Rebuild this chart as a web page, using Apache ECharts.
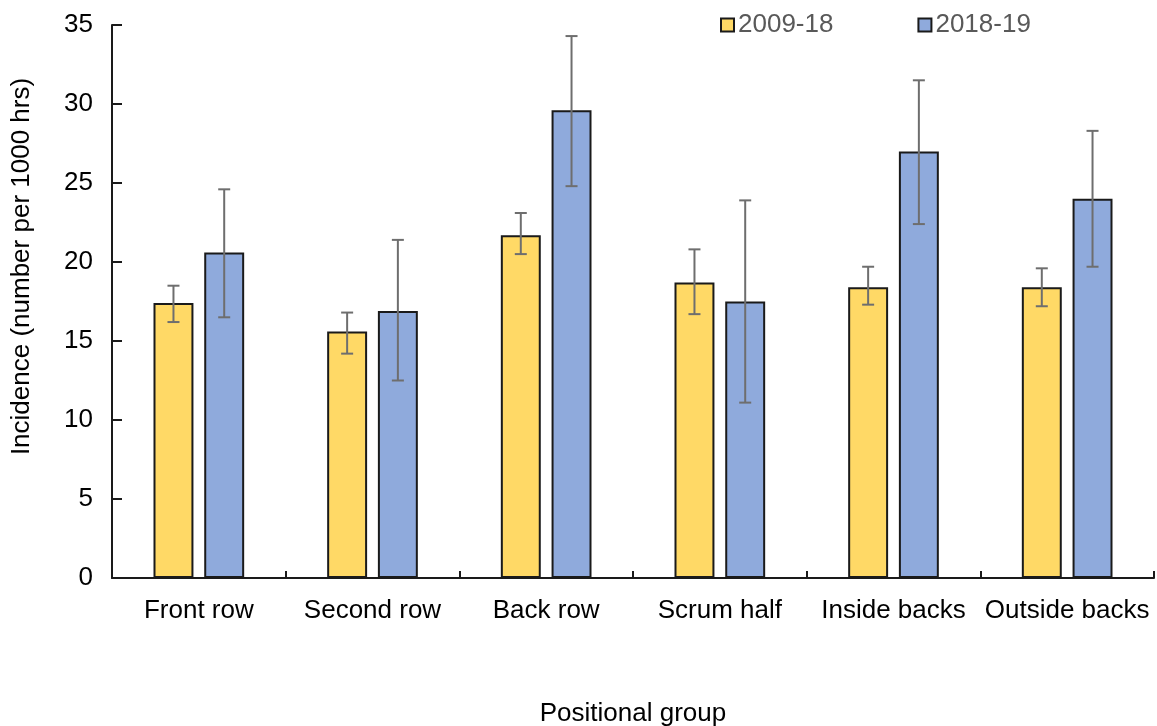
<!DOCTYPE html>
<html>
<head>
<meta charset="utf-8">
<title>Incidence by positional group</title>
<script src="https://cdn.jsdelivr.net/npm/echarts@6/dist/echarts.min.js"></script>
<style>
  html, body { margin: 0; padding: 0; background: #fff; }
  #chart { width: 1157px; height: 726px; }
</style>
</head>
<body>
<div id="chart"></div>
<script>
// Positional groups along the x axis
const categories = ['Front row', 'Second row', 'Back row', 'Scrum half', 'Inside backs', 'Outside backs'];

// Mean incidence (number per 1000 hrs)
const seasons0918 = [17.4, 15.6, 21.7, 18.7, 18.4, 18.4];
const seasons1819 = [20.6, 16.9, 29.6, 17.5, 27.0, 24.0];

// Confidence interval bounds for each group
const low0918  = [16.2, 14.2, 20.5, 16.7, 17.3, 17.2];
const high0918 = [18.5, 16.8, 23.1, 20.8, 19.7, 19.6];
const low1819  = [16.5, 12.5, 24.8, 11.1, 22.4, 19.7];
const high1819 = [24.6, 21.4, 34.3, 23.9, 31.5, 28.3];

const seriesNames = ['2009-18', '2018-19'];
const yTicks = { min: 0, max: 35, interval: 5 };

const FONT = "'Liberation Sans', Arial, sans-serif";
const BAR_W = 0.23;   // bar width as share of the category band
const BAR_GAP = 0.27; // gap between paired bars as share of bar width

function errorRows(lo, hi) {
  return categories.map((c, i) => [i, lo[i], hi[i]]);
}

// Draws a whisker with caps, shifted to sit over its own bar in the pair
function makeErrorRenderer(side) {
  return function (params, api) {
    const idx = api.value(0);
    const pLo = api.coord([idx, api.value(1)]);
    const pHi = api.coord([idx, api.value(2)]);
    const band = api.size([1, 0])[0];
    const off = side * band * BAR_W * (1 + BAR_GAP) / 2;
    const x = pLo[0] + off;
    const cap = 6;
    const style = { stroke: '#6e6e6e', lineWidth: 2 };
    return {
      type: 'group',
      children: [
        { type: 'line', shape: { x1: x, y1: pHi[1], x2: x, y2: pLo[1] }, style },
        { type: 'line', shape: { x1: x - cap, y1: pHi[1], x2: x + cap, y2: pHi[1] }, style },
        { type: 'line', shape: { x1: x - cap, y1: pLo[1], x2: x + cap, y2: pLo[1] }, style }
      ]
    };
  };
}

const chart = echarts.init(document.getElementById('chart'), null, { renderer: 'canvas' });

chart.setOption({
  animation: false,
  backgroundColor: '#ffffff',
  textStyle: { fontFamily: FONT },
  legend: {
    data: seriesNames,
    left: 720,
    top: 12,
    padding: 0,
    itemWidth: 13,
    itemHeight: 13,
    itemGap: 84,
    icon: 'rect',
    textStyle: { fontFamily: FONT, fontSize: 26, color: '#595959', padding: [0, 0, 7, -1] }
  },
  grid: { left: 112, right: 3, top: 25, bottom: 148, containLabel: false, outerBoundsMode: 'none' },
  xAxis: {
    type: 'category',
    data: categories,
    name: 'Positional group',
    nameLocation: 'middle',
    nameGap: 123,
    nameTextStyle: { fontFamily: FONT, fontSize: 26, color: '#000' },
    axisLine: { lineStyle: { color: '#1a1a1a', width: 2 } },
    axisTick: { show: true, inside: true, length: 7, alignWithLabel: false, lineStyle: { color: '#1a1a1a', width: 2 } },
    axisLabel: { fontFamily: FONT, fontSize: 26, color: '#000', margin: 20, interval: 0 },
    splitLine: { show: false }
  },
  yAxis: {
    type: 'value',
    min: yTicks.min,
    max: yTicks.max,
    interval: yTicks.interval,
    name: 'Incidence (number per 1000 hrs)',
    nameLocation: 'middle',
    nameRotate: 90,
    nameGap: 77,
    nameTextStyle: { fontFamily: FONT, fontSize: 26, color: '#000', padding: [0, 0, 0, 70] },
    axisLine: { show: true, lineStyle: { color: '#1a1a1a', width: 2 } },
    axisTick: { show: true, inside: true, length: 10, lineStyle: { color: '#1a1a1a', width: 2 } },
    axisLabel: { fontFamily: FONT, fontSize: 26, color: '#000', margin: 19 },
    splitLine: { show: false }
  },
  series: [
    {
      name: seriesNames[0],
      type: 'bar',
      data: seasons0918,
      barWidth: (BAR_W * 100) + '%',
      barGap: (BAR_GAP * 100) + '%',
      itemStyle: { color: '#FFD966', borderColor: '#1a1a1a', borderWidth: 2 },
      z: 2
    },
    {
      name: seriesNames[1],
      type: 'bar',
      data: seasons1819,
      barWidth: (BAR_W * 100) + '%',
      barGap: (BAR_GAP * 100) + '%',
      itemStyle: { color: '#8FAADC', borderColor: '#1a1a1a', borderWidth: 2 },
      z: 2
    },
    {
      name: seriesNames[0] + ' CI',
      type: 'custom',
      data: errorRows(low0918, high0918),
      encode: { x: 0, y: [1, 2] },
      renderItem: makeErrorRenderer(-1),
      z: 5,
      silent: true
    },
    {
      name: seriesNames[1] + ' CI',
      type: 'custom',
      data: errorRows(low1819, high1819),
      encode: { x: 0, y: [1, 2] },
      renderItem: makeErrorRenderer(1),
      z: 5,
      silent: true
    }
  ]
});
</script>
</body>
</html>
